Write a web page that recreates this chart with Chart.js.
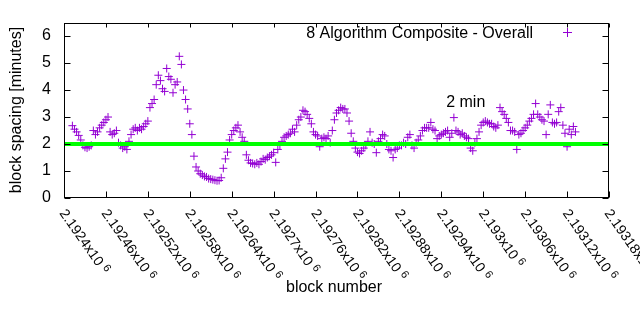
<!DOCTYPE html>
<html>
<head>
<meta charset="utf-8">
<script src="https://cdn.jsdelivr.net/npm/chart.js@4.4.1/dist/chart.umd.min.js"></script>
<style>
  html, body { margin: 0; padding: 0; background: #fff; }
  #wrap { width: 640px; height: 330px; }
</style>
</head>
<body>
<div id="wrap"><canvas id="grafico" width="640" height="330"></canvas></div>
<script>
// block spacing - 8 algorithm composite
const firstBlock = 2192412;
const blockStep = 3;
const spacing = [
  2.68, 2.55, 2.45, 2.32, 2.15, 1.95, 1.88, 1.85, 1.9, 1.95,
  2.5, 2.35, 2.45, 2.6, 2.7, 2.8, 2.9, 3.0, 2.45, 2.35,
  2.4, 2.5, 2.05, 1.95, 1.85, 1.9, 1.8, 2.1, 2.35, 2.55,
  2.6, 2.5, 2.6, 2.55, 2.65, 2.75, 2.85, 3.35, 3.5, 3.65,
  4.2, 4.55, 4.35, 4.05, 3.95, 4.8, 4.5, 4.4, 3.9, 4.2,
  4.3, 5.25, 4.95, 4.0, 3.65, 3.3, 2.75, 2.35, 1.55, 1.15,
  1.0, 0.9, 0.85, 0.8, 0.78, 0.72, 0.7, 0.68, 0.66, 0.64,
  0.65, 0.75, 1.1, 1.45, 1.7, 2.15, 2.35, 2.5, 2.6, 2.7,
  2.45, 2.25, 2.1, 1.6, 1.4, 1.3, 1.28, 1.25, 1.3, 1.25,
  1.35, 1.45, 1.42, 1.5, 1.55, 1.6, 1.68, 1.32, 1.8, 1.95,
  2.1, 2.25, 2.3, 2.35, 2.4, 2.55, 2.45, 2.7, 2.9, 3.0,
  3.25, 3.2, 3.1, 2.95, 2.75, 2.45, 2.35, 2.3, 1.9, 2.2,
  2.25, 2.2, 2.3, 2.05, 2.5, 2.9, 3.15, 3.25, 3.35, 3.3,
  3.3, 3.15, 2.85, 2.4, 2.1, 1.85, 1.7, 1.65, 1.75, 1.85,
  1.95, 2.1, 2.45, 2.05, 2.0, 1.68, 2.1, 2.2, 2.35, 2.3,
  2.0, 1.8, 1.75, 1.5, 1.8, 1.85, 1.95, 1.95, 2.05, 2.0,
  2.25, 2.35, 1.95, 1.85, 2.05, 2.15, 2.3, 2.5, 2.6, 2.6,
  2.6, 2.8, 2.55, 2.5, 2.2, 2.3, 2.35, 2.4, 2.45, 2.5,
  2.25, 2.4, 2.98, 2.5, 2.45, 2.35, 2.4, 2.3, 2.25, 2.2,
  1.85, 1.75, 2.05, 2.2, 2.45, 2.7, 2.8, 2.85, 2.8, 2.75,
  2.75, 2.65, 2.6, 2.7, 3.35, 3.2, 3.1, 2.95, 2.8, 2.5,
  2.5, 2.45, 1.8, 2.35, 2.4, 2.5, 2.6, 2.7, 2.85, 2.95,
  3.1, 3.5, 3.1, 3.0, 2.9, 2.85, 2.35, 3.1, 3.45, 2.8,
  2.75, 2.8, 3.2, 3.35, 2.7, 2.4, 1.9, 2.55, 2.35, 2.65, 2.45
];

const xTicks = [2192400, 2192460, 2192520, 2192580, 2192640, 2192700, 2192760,
  2192820, 2192880, 2192940, 2193000, 2193060, 2193120, 2193180];
const xTickLabels = ['2.1924', '2.19246', '2.19252', '2.19258', '2.19264', '2.1927', '2.19276',
  '2.19282', '2.19288', '2.19294', '2.193', '2.19306', '2.19312', '2.19318'];
const yTicks = [0, 1, 2, 3, 4, 5, 6];
const targetMinutes = 2;

const seriesName = '8 Algorithm Composite - Overall';
const purple = '#9400d3';
const green = '#00ff00';
const FONT = '"Liberation Sans", Arial, sans-serif';

const points = spacing.map((v, i) => ({ x: firstBlock + i * blockStep, y: v }));

// frame, inward ticks, rotated labels, key and titles (gnuplot look)
const gnuplotFrame = {
  id: 'gnuplotFrame',
  afterDraw(chart) {
    const { ctx, chartArea: a, scales: { x, y } } = chart;
    const L = Math.round(a.left) + 0.5, R = Math.round(a.right) - 0.5;
    const T = Math.round(a.top) + 0.5, B = Math.round(a.bottom) - 0.5;
    ctx.save();
    ctx.strokeStyle = '#000';
    ctx.lineWidth = 1;
    ctx.strokeRect(L, T, R - L, B - T);

    ctx.beginPath();
    yTicks.forEach(v => {
      const py = Math.round(y.getPixelForValue(v)) + 0.5;
      ctx.moveTo(L, py); ctx.lineTo(L + 6, py);
      ctx.moveTo(R, py); ctx.lineTo(R - 6, py);
    });
    xTicks.forEach(v => {
      const px = Math.round(x.getPixelForValue(v)) + 0.5;
      ctx.moveTo(px, B); ctx.lineTo(px, B - 6);
      ctx.moveTo(px, T); ctx.lineTo(px, T + 4);
    });
    ctx.stroke();

    // x tick labels, rotated clockwise
    ctx.fillStyle = '#000';
    ctx.textBaseline = 'top';
    ctx.textAlign = 'left';
    const ang = 55 * Math.PI / 180;
    xTicks.forEach((v, i) => {
      const px = x.getPixelForValue(v);
      ctx.save();
      ctx.translate(px + 4, a.bottom + 9);
      ctx.rotate(ang);
      ctx.font = '14px ' + FONT;
      const txt = xTickLabels[i] + 'x10';
      ctx.fillText(txt, 0, 0);
      const w = ctx.measureText(txt + ' ').width;
      ctx.font = '11px ' + FONT;
      ctx.fillText('6', w, -2);
      ctx.restore();
    });

    // axis titles
    ctx.font = '16px ' + FONT;
    ctx.textAlign = 'center';
    ctx.textBaseline = 'middle';
    ctx.fillText('block number', 334, 288);
    ctx.save();
    ctx.translate(17, 110);
    ctx.rotate(-Math.PI / 2);
    ctx.fillText('block spacing [minutes]', 0, 0);
    ctx.restore();

    // key
    ctx.textAlign = 'right';
    ctx.textBaseline = 'alphabetic';
    ctx.fillText(seriesName, 533, 38);
    ctx.strokeStyle = purple;
    ctx.beginPath();
    ctx.moveTo(563, 32.5); ctx.lineTo(572, 32.5);
    ctx.moveTo(567.5, 28); ctx.lineTo(567.5, 37);
    ctx.stroke();

    // label of the target line
    ctx.textAlign = 'left';
    ctx.textBaseline = 'middle';
    ctx.fillStyle = '#000';
    ctx.fillText('2 min', x.getPixelForValue(2192947), y.getPixelForValue(3.55));
    ctx.restore();
  }
};

new Chart(document.getElementById('grafico'), {
  type: 'scatter',
  data: {
    datasets: [
      {
        label: '2 min',
        type: 'line',
        data: [{ x: xTicks[0], y: targetMinutes }, { x: xTicks[xTicks.length - 1], y: targetMinutes }],
        borderColor: green,
        borderWidth: 4,
        pointRadius: 0,
        order: 0
      },
      {
        label: seriesName,
        data: points,
        pointStyle: 'cross',
        pointRadius: 4,
        borderColor: purple,
        backgroundColor: purple,
        borderWidth: 1,
        order: 1
      }
    ]
  },
  options: {
    responsive: false,
    animation: false,
    devicePixelRatio: 1,
    layout: { padding: { top: 20, right: 31, left: 0, bottom: 0 } },
    plugins: { legend: { display: false }, tooltip: { enabled: false } },
    scales: {
      x: {
        type: 'linear',
        min: xTicks[0],
        max: xTicks[xTicks.length - 1],
        grid: { display: false, drawTicks: false },
        border: { display: false },
        ticks: { display: false },
        afterFit: s => { s.height = 132; }
      },
      y: {
        min: 0,
        max: 6.5,
        grid: { display: false, drawTicks: false },
        border: { display: false },
        afterBuildTicks: s => { s.ticks = yTicks.map(v => ({ value: v })); },
        ticks: { color: '#000', padding: 13, font: { family: FONT, size: 16 } },
        afterFit: s => { s.width = 64; }
      }
    }
  },
  plugins: [gnuplotFrame]
});
</script>
</body>
</html>
